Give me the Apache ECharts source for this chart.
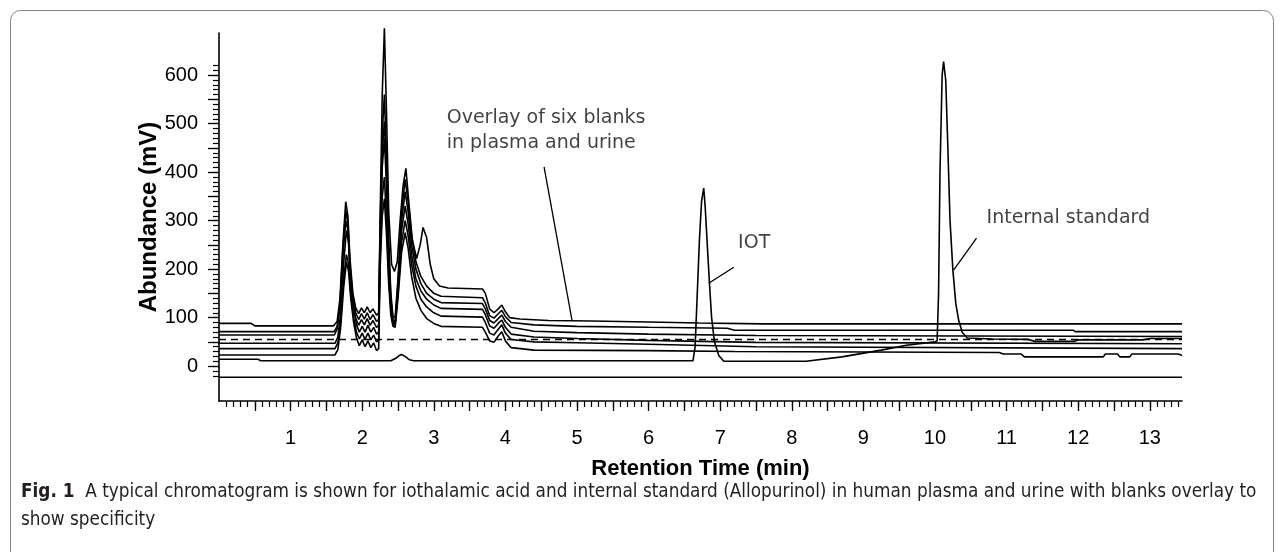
<!DOCTYPE html>
<html><head><meta charset="utf-8">
<script src="https://cdn.jsdelivr.net/npm/echarts@6/dist/echarts.min.js"></script>
<style>html,body{margin:0;padding:0;background:#fff}#c{width:1284px;height:552px}</style>
</head><body><div id="c"></div>
<script>
// ---- tick labels ----
const xTickLabels = [1,2,3,4,5,6,7,8,9,10,11,12,13];
const yTickLabels = [0,100,200,300,400,500,600];

// ---- traces: [retention time (min), abundance (mV)] ----
const blankA = [[0,88],[0.45,88],[0.5,83],[1.6,83],[1.65,92],[1.69,140],[1.73,250],[1.77,339],[1.8,310],[1.83,220],[1.87,150],[1.91,120],[1.95,108],[1.99,120],[2.03,110],[2.07,122],[2.11,110],[2.15,118],[2.2,105],[2.23,110],[2.25,300],[2.28,560],[2.31,697],[2.34,520],[2.37,320],[2.41,210],[2.45,195],[2.49,215],[2.53,300],[2.57,370],[2.61,408],[2.65,340],[2.7,260],[2.76,222],[2.81,250],[2.85,286],[2.9,265],[2.95,210],[3.0,180],[3.08,165],[3.2,161],[3.68,159],[3.72,150],[3.78,118],[3.84,110],[3.9,118],[3.95,126],[4.0,112],[4.06,100],[4.2,97],[4.6,94],[5.2,93],[6.0,91],[6.7,89],[7.6,87],[13.45,87]];
const blankB = [[0,71],[1.61,71],[1.65,82],[1.69,130],[1.73,240],[1.77,320],[1.8,295],[1.83,205],[1.87,140],[1.91,110],[1.95,96],[1.99,108],[2.03,97],[2.07,110],[2.11,96],[2.15,106],[2.2,92],[2.23,96],[2.25,280],[2.28,480],[2.31,560],[2.34,430],[2.37,260],[2.4,150],[2.43,102],[2.46,100],[2.5,180],[2.55,320],[2.6,385],[2.64,340],[2.69,270],[2.75,215],[2.82,185],[2.9,165],[3.0,150],[3.1,144],[3.68,141],[3.72,130],[3.78,104],[3.84,99],[3.9,108],[3.95,115],[4.0,102],[4.08,90],[4.4,85],[5.0,82],[6.0,80],[7.1,78],[7.2,74],[11.93,74],[11.96,71],[13.45,71]];
const blankC = [[0,64],[1.61,64],[1.65,76],[1.69,120],[1.73,225],[1.77,300],[1.8,280],[1.83,195],[1.87,130],[1.91,98],[1.95,84],[1.99,96],[2.03,85],[2.07,98],[2.11,84],[2.15,94],[2.2,80],[2.23,84],[2.25,260],[2.28,440],[2.31,505],[2.34,400],[2.37,240],[2.4,140],[2.43,95],[2.46,92],[2.5,170],[2.55,300],[2.6,360],[2.64,320],[2.69,250],[2.75,200],[2.82,170],[2.9,150],[3.0,138],[3.1,131],[3.68,129],[3.72,118],[3.78,94],[3.84,89],[3.9,98],[3.95,105],[4.0,92],[4.08,80],[4.4,72],[5.0,69],[6.0,66],[7.5,63],[13.45,61]];
const blankD = [[0,47],[1.62,47],[1.66,60],[1.7,110],[1.74,210],[1.78,280],[1.81,255],[1.84,180],[1.88,120],[1.92,85],[1.96,70],[2.0,82],[2.04,70],[2.08,84],[2.12,70],[2.16,80],[2.2,66],[2.23,70],[2.25,240],[2.28,410],[2.31,470],[2.34,370],[2.37,220],[2.4,130],[2.43,90],[2.46,88],[2.5,160],[2.55,280],[2.6,330],[2.64,295],[2.69,230],[2.75,180],[2.82,155],[2.9,138],[3.0,126],[3.1,119],[3.68,117],[3.72,106],[3.78,83],[3.84,78],[3.9,88],[3.95,95],[4.0,80],[4.08,66],[4.4,60],[5.0,57],[6.0,53],[7.5,49],[13.45,46]];
const blankE = [[0,36],[1.62,36],[1.66,48],[1.7,95],[1.74,180],[1.78,230],[1.81,210],[1.84,150],[1.88,100],[1.92,70],[1.96,56],[2.0,68],[2.04,55],[2.08,68],[2.12,54],[2.16,64],[2.2,50],[2.23,54],[2.25,220],[2.28,350],[2.31,390],[2.34,300],[2.37,190],[2.4,115],[2.43,86],[2.46,84],[2.5,150],[2.55,255],[2.6,300],[2.64,270],[2.69,210],[2.75,165],[2.82,138],[2.9,122],[3.0,110],[3.1,103],[3.68,101],[3.72,90],[3.78,68],[3.84,64],[3.9,76],[3.95,85],[4.0,68],[4.08,55],[4.4,50],[5.0,48],[6.0,45],[7.5,40],[13.45,36]];
const blankF = [[0,23],[1.62,23],[1.66,34],[1.7,80],[1.74,160],[1.78,215],[1.81,195],[1.84,140],[1.88,90],[1.92,58],[1.96,42],[2.0,54],[2.04,40],[2.08,52],[2.12,38],[2.16,48],[2.2,32],[2.23,36],[2.25,200],[2.28,310],[2.31,345],[2.34,270],[2.37,170],[2.4,105],[2.43,82],[2.46,80],[2.5,140],[2.55,235],[2.6,275],[2.64,245],[2.69,185],[2.75,140],[2.82,115],[2.9,98],[3.0,88],[3.1,82],[3.68,80],[3.72,70],[3.78,52],[3.84,49],[3.9,62],[3.95,71],[4.0,52],[4.08,38],[4.4,33],[6.0,32],[7.2,30],[10.9,28],[10.95,25],[11.2,25],[11.25,19],[12.35,19],[12.38,25],[12.55,25],[12.58,19],[12.72,19],[12.75,25],[13.4,25],[13.45,22]];
const sampleTrace = [[0,14],[0.55,14],[0.58,11],[2.4,11],[2.47,16],[2.52,22],[2.55,24],[2.6,20],[2.66,13],[2.72,11],[6.62,11],[6.65,40],[6.68,150],[6.71,260],[6.74,340],[6.77,367],[6.79,330],[6.82,250],[6.85,171],[6.88,100],[6.92,50],[6.98,22],[7.05,10],[8.2,10],[8.7,19],[9.25,33],[9.6,43],[10.0,50],[10.03,52],[10.05,150],[10.07,400],[10.1,600],[10.12,628],[10.15,590],[10.18,450],[10.21,300],[10.25,198],[10.29,130],[10.33,95],[10.38,70],[10.45,58],[10.8,56],[11.3,55],[11.4,51],[11.95,51],[12.0,54],[12.9,54],[13.0,57],[13.45,57]];
const dashedTrace = [[0,55],[13.45,55]];
const bottomTrace = [[0,-23],[13.45,-23]];

// ---- annotations ----
const annotTexts = ['Overlay of six blanks\nin plasma and urine', 'IOT', 'Internal standard'];
const annotAnchors = [[3.18,485],[7.25,254],[10.72,305]];
const leaderOverlay = [[4.54,411],[4.93,95]];
const leaderIOT = [[7.19,204],[6.84,171]];
const leaderIS = [[10.58,264],[10.26,198]];

const captionBold = 'Fig. 1';
const captionLine1 = 'A typical chromatogram is shown for iothalamic acid and internal standard (Allopurinol) in human plasma and urine with blanks overlay to';
const captionLine2 = 'show specificity';

// ---- axis ranges ----
const X_MIN = 0, X_MAX = 13.45;
const Y_MIN = -72, Y_MAX = 687;

const xHalfTicks = []; for (let i = 1; i <= 26; i++) xHalfTicks.push(i * 0.5);
const xTenthTicks = []; for (let i = 1; i <= 134; i++) xTenthTicks.push(i / 10);
const yFiftyTicks = []; for (let v = 0; v <= 600; v += 50) yFiftyTicks.push(v);
const yTenTicks = []; for (let v = -20; v <= 620; v += 10) yTenTicks.push(v);

const FONT = "'Liberation Sans', Arial, sans-serif";
const ANNOT_FONT = "'DejaVu Sans', 'Liberation Sans', sans-serif";
const CAP_FONT = "'Liberation Sans Narrow', 'DejaVu Sans Condensed', sans-serif";
const chart = echarts.init(document.getElementById('c'), null, {renderer: 'canvas'});

function trace(d, dashed) {
  return {type: 'line', data: d, symbol: 'none', clip: false, silent: true, animation: false,
    lineStyle: dashed ? {color: '#000', width: 1.5, type: [7, 5]} : {color: '#000', width: 1.6}};
}
function leader(d) {
  return {type: 'line', data: d, symbol: 'none', clip: false, silent: true, animation: false,
    lineStyle: {color: '#000', width: 1.3}};
}

const option = {
  backgroundColor: '#fff',
  animation: false,
  grid: {left: 219, top: 33, right: 102, bottom: 151, containLabel: false},
  xAxis: [
    {type: 'value', position: 'bottom', min: X_MIN, max: X_MAX,
      axisLine: {onZero: false, lineStyle: {color: '#000', width: 1.6}},
      axisTick: {customValues: xHalfTicks, length: 10, lineStyle: {color: '#000', width: 1.3}},
      axisLabel: {customValues: xTickLabels, margin: 27, fontSize: 20, color: '#000', fontFamily: FONT},
      splitLine: {show: false},
      name: 'Retention Time (min)', nameLocation: 'middle', nameGap: 57, nameMoveOverlap: false,
      nameTextStyle: {fontSize: 22, fontWeight: 'bold', color: '#000', fontFamily: FONT}},
    {type: 'value', position: 'bottom', min: X_MIN, max: X_MAX,
      axisLine: {show: false, onZero: false},
      axisTick: {customValues: xTenthTicks, length: 6, lineStyle: {color: '#000', width: 1.2}},
      axisLabel: {show: false}, splitLine: {show: false}}
  ],
  yAxis: [
    {type: 'value', position: 'left', min: Y_MIN, max: Y_MAX,
      axisLine: {show: true, onZero: false, lineStyle: {color: '#000', width: 1.6}},
      axisTick: {show: true, customValues: yFiftyTicks, length: 11, lineStyle: {color: '#000', width: 1.3}},
      axisLabel: {customValues: yTickLabels, margin: 21, fontSize: 20, color: '#000', fontFamily: FONT},
      splitLine: {show: false},
      name: 'Abundance (mV)', nameLocation: 'middle', nameGap: 58, nameRotate: 90, nameMoveOverlap: false,
      nameTextStyle: {fontSize: 24, fontWeight: 'bold', color: '#000', fontFamily: FONT}},
    {type: 'value', position: 'left', min: Y_MIN, max: Y_MAX,
      axisLine: {show: false, onZero: false},
      axisTick: {show: true, customValues: yTenTicks, length: 6, lineStyle: {color: '#000', width: 1.2}},
      axisLabel: {show: false}, splitLine: {show: false}}
  ],
  series: [
    trace(bottomTrace), trace(dashedTrace, true),
    trace(blankA), trace(blankB), trace(blankC), trace(blankD), trace(blankE), trace(blankF),
    trace(sampleTrace),
    leader(leaderOverlay), leader(leaderIOT), leader(leaderIS),
    {type: 'scatter', symbolSize: 0, silent: true, animation: false, clip: false,
      data: annotAnchors.map((p, i) => ({value: p, label: {formatter: annotTexts[i]}})),
      label: {show: true, position: 'right', distance: 0, fontSize: 19, lineHeight: 25,
        color: '#111', fontFamily: ANNOT_FONT, align: 'left', verticalAlign: 'middle'}}
  ],
  graphic: [
    {type: 'rect', silent: true, shape: {x: 10.5, y: 10.5, width: 1263, height: 580, r: 10},
      style: {fill: 'none', stroke: '#808285', lineWidth: 1}},
    {type: 'text', silent: true, left: 21, top: 478,
      style: {text: '{b|' + captionBold + '}  ' + captionLine1 + '\n' + captionLine2,
        font: "18.8px " + CAP_FONT,
        fill: '#231f20', lineHeight: 28,
        rich: {b: {fontWeight: 'bold', fontSize: 18.8, fontFamily: CAP_FONT, fill: '#231f20'}}}}
  ]
};
chart.setOption(option);
</script></body></html>
